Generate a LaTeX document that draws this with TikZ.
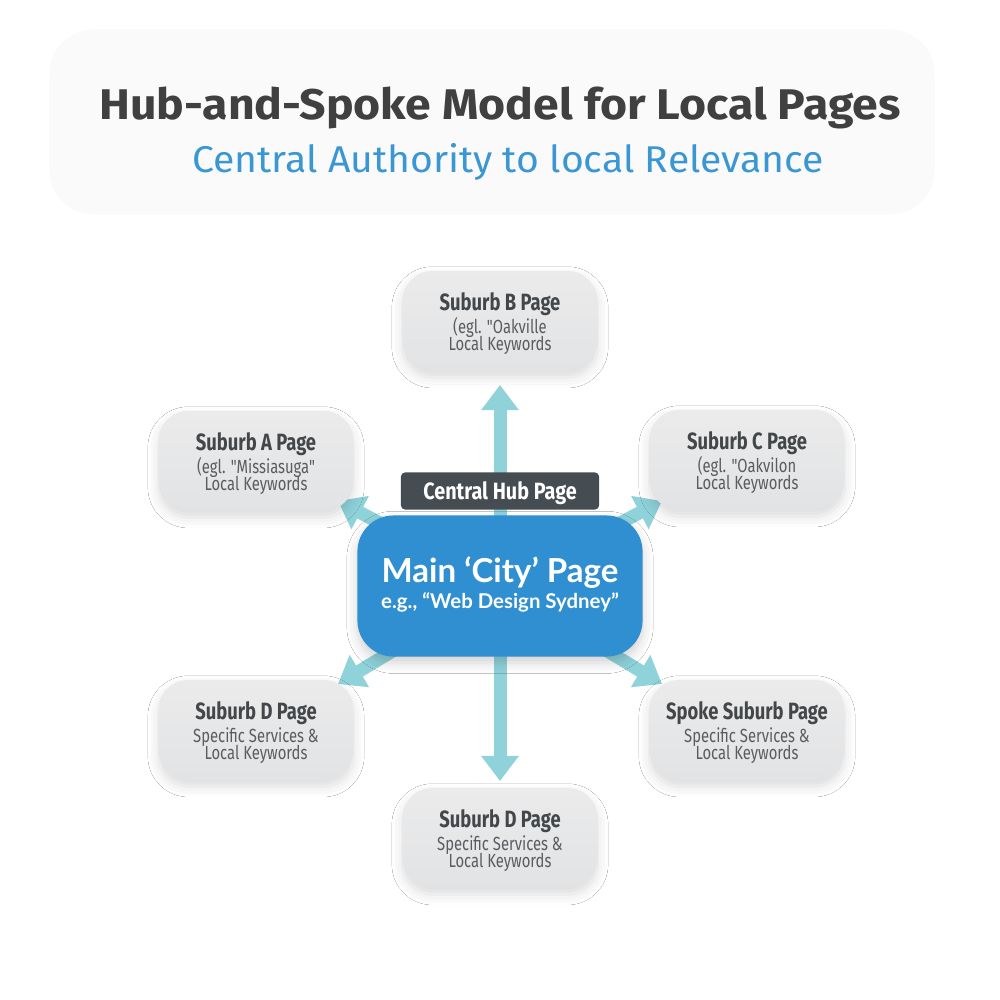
\documentclass[tikz,border=0pt]{standalone}
\usepackage{fontspec}
\setmainfont{Fira Sans}
\newfontfamily\cnd[FakeStretch=0.78]{Fira Sans}
\newfontfamily\hubfnt[FakeStretch=0.84]{Fira Sans}
\newfontfamily\ttlfnt[FakeStretch=1.08]{Fira Sans}
\newfontfamily\subfnt[FakeStretch=1.05]{Fira Sans}
\newfontfamily\latofnt{Lato}
\usetikzlibrary{arrows.meta,shadows.blur,backgrounds}
\definecolor{titlec}{HTML}{404040}
\definecolor{subc}{HTML}{3B97D3}
\definecolor{panelc}{HTML}{FAFAFA}
\definecolor{boxtop}{HTML}{EBEBEC}
\definecolor{boxbot}{HTML}{E2E3E4}
\definecolor{headc}{HTML}{43474A}
\definecolor{linec}{HTML}{5A5D60}
\definecolor{mainc}{HTML}{2F8FD1}
\definecolor{hubc}{HTML}{454C52}
\definecolor{spokec}{HTML}{8FD2DA}
\tikzset{
  sbox/.style={rectangle, rounded corners=0.3cm, top color=boxtop, bottom color=boxbot,
    draw=none, minimum width=1.95cm, minimum height=1.0cm, inner sep=0pt,
    blur shadow={shadow xshift=0pt, shadow yshift=-1.8pt, shadow blur radius=3pt, shadow opacity=14}},
  hdtxt/.style={anchor=base, inner sep=0pt, text=headc, font=\cnd\bfseries\fontsize{6.7}{7}\selectfont},
  lntxt/.style={anchor=base, inner sep=0pt, text=linec, font=\cnd\fontsize{5.4}{6}\selectfont},
  mainbox/.style={rectangle, rounded corners=0.36cm, fill=mainc, minimum width=2.85cm,
    minimum height=1.41cm, inner sep=0pt,
    blur shadow={shadow xshift=0pt, shadow yshift=-1.8pt, shadow blur radius=3pt, shadow opacity=18}},
  maintxt/.style={anchor=base, inner sep=0pt, text=white, font=\latofnt\bfseries\fontsize{9.4}{10}\selectfont},
  mainsub/.style={anchor=base, inner sep=0pt, text=white, font=\latofnt\bfseries\fontsize{5.8}{7}\selectfont},
  hubbox/.style={rectangle, rounded corners=0.04cm, fill=hubc, minimum width=1.98cm,
    minimum height=0.37cm, inner sep=0pt},
  hubtxt/.style={anchor=base, inner sep=0pt, text=white, font=\hubfnt\bfseries\fontsize{6.7}{7}\selectfont},
  spoke/.style={draw=spokec, line width=0.13cm, -{Triangle[width=0.36cm,length=0.25cm]}}
}
\newcommand\spk[6]{%
  \node[sbox] (#1) at (#2,#3) {};
  \node[hdtxt] (#1-h) at (#2,#3-11) {#4};
  \node[lntxt] (#1-a) at (#2,#3+12) {#5};
  \node[lntxt] (#1-b) at (#2,#3+29) {#6};
}
\begin{document}
\begin{tikzpicture}[x=0.01cm,y=-0.01cm]
\useasboundingbox (0,0) rectangle (1000,1000);
% title panel
\node[rectangle, rounded corners=0.45cm, fill=panelc, minimum width=8.85cm, minimum height=1.85cm] (panel) at (492,122) {};
\node[anchor=base, inner sep=0pt, text=titlec, font=\ttlfnt\bfseries\fontsize{12.2}{13}\selectfont] (title) at (500,119) {Hub-and-Spoke Model for Local Pages};
\node[anchor=base, inner sep=0pt, text=subc, font=\subfnt\fontsize{10.6}{12}\selectfont] (subtitle) at (508,172) {Central Authority to local Relevance};
% spoke boxes
\spk{B}{500}{321}{Suburb B Page}{(egl. "Oakville}{Local Keywords}
\spk{A}{256}{461}{Suburb A Page}{(egl. "Missiasuga"}{Local Keywords}
\spk{C}{747}{460}{Suburb C Page}{(egl. "Oakvilon}{Local Keywords}
\spk{D1}{256}{730}{Suburb D Page}{Specific Services \&}{Local Keywords}
\spk{S}{747}{730}{Spoke Suburb Page}{Specific Services \&}{Local Keywords}
\spk{D2}{500}{838}{Suburb D Page}{Specific Services \&}{Local Keywords}
% hub label
\node[hubbox] (hub) at (500,491) {};
\node[hubtxt] (hub-t) at (500,499) {Central Hub Page};
% main box
\node[mainbox] (main) at (500,586) {};
\node[maintxt] (main-t) at (500,582) {Main ‘City’ Page};
\node[mainsub] (main-s) at (500,608) {e.g., “Web Design Sydney”};
% tips
\coordinate (tB) at (500,385);
\coordinate (tD2) at (500,781);
\coordinate (tA) at (338,501);
\coordinate (tC) at (662,501);
\coordinate (tD1) at (338,684);
\coordinate (tS) at (662,684);
\begin{pgfonlayer}{background}
\fill[white] (0,0) rectangle (1000,1000);
\foreach \t in {tB,tD2,tA,tC,tD1,tS}
  \draw[spoke] (main.center) -- (\t);
\end{pgfonlayer}
\end{tikzpicture}
\end{document}
